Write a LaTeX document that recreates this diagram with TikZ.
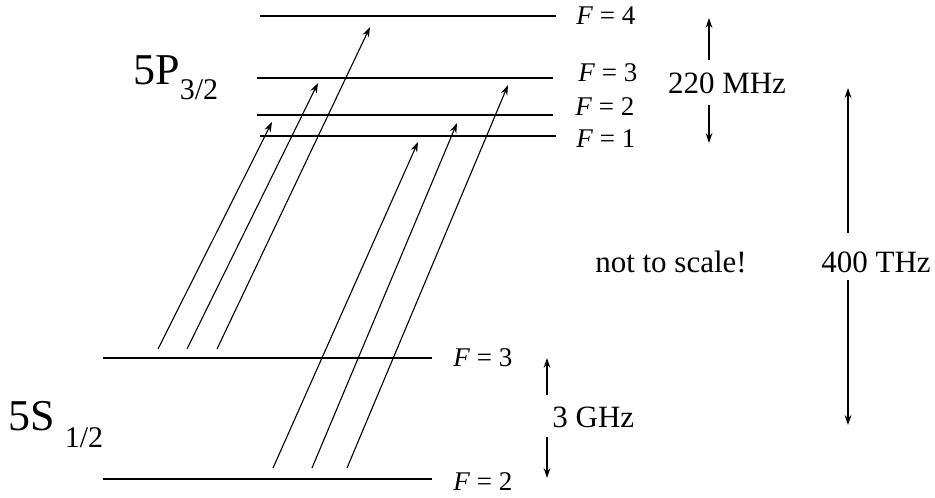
\documentclass[tikz,border=0pt]{standalone}
\usepackage{fontspec}
\setmainfont{Liberation Serif}
\usetikzlibrary{arrows.meta}

\begin{document}
\begin{tikzpicture}[x=0.5pt, y=-0.5pt,
        every node/.style={inner sep=0pt, font=\fontsize{13.5}{15}\selectfont},
        lvl/.style={line width=1.3pt},
        trans/.style={line width=0.55pt, -{Stealth[length=5pt, width=3.4pt]}},
        gap/.style={line width=0.7pt, -{Stealth[length=5pt, width=3.4pt]}},
        big/.style={font=\fontsize{22}{24}\selectfont},
        freq/.style={font=\fontsize{15.5}{17}\selectfont}]
        \useasboundingbox (0,0) rectangle (935,497);

        % 5P_{3/2}
        \coordinate (p4a) at (260,16);  \coordinate (p4b) at (556,16);
        \coordinate (p3a) at (257,78);  \coordinate (p3b) at (553,78);
        \coordinate (p2a) at (257,115); \coordinate (p2b) at (553,115);
        \coordinate (p1a) at (260,136); \coordinate (p1b) at (556,136);
        \draw[lvl] (p4a) -- (p4b);
        \draw[lvl] (p3a) -- (p3b);
        \draw[lvl] (p2a) -- (p2b);
        \draw[lvl] (p1a) -- (p1b);
        \node[anchor=west] (fp4) at (576,16) {\textit{F} = 4};
        \node[anchor=west] (fp3) at (578,73) {\textit{F} = 3};
        \node[anchor=west] (fp2) at (575,107) {\textit{F} = 2};
        \node[anchor=west] (fp1) at (576,139) {\textit{F} = 1};
        \node[big, anchor=base west] (P) at (133,85) {5P\raisebox{-7.5pt}{\fontsize{15}{16}\selectfont 3/2}};

        % 5S_{1/2}
        \coordinate (s3a) at (103,358); \coordinate (s3b) at (432,358);
        \coordinate (s2a) at (103,479); \coordinate (s2b) at (432,479);
        \draw[line width=1pt] (s3a) -- (s3b);
        \draw[line width=1pt] (s2a) -- (s2b);
        \node[anchor=west] (fs3) at (453,358) {\textit{F} = 3};
        \node[anchor=west] (fs2) at (453,482) {\textit{F} = 2};
        \node[big, anchor=base west] (S) at (8,430) {5S\hspace{5pt}\raisebox{-8.5pt}{\fontsize{15}{16}\selectfont 1/2}};

        % transitions from F=3
        \coordinate (a1) at (158,349); \coordinate (a1t) at (272,122);
        \coordinate (a2) at (187,349); \coordinate (a2t) at (318,83);
        \coordinate (a3) at (217,349); \coordinate (a3t) at (370,27);
        \draw[trans] (a1) -- (a1t);
        \draw[trans] (a2) -- (a2t);
        \draw[trans] (a3) -- (a3t);
        % transitions from F=2
        \coordinate (b1) at (273,468); \coordinate (b1t) at (418,142);
        \coordinate (b2) at (312,468); \coordinate (b2t) at (457,123);
        \coordinate (b3) at (347,468); \coordinate (b3t) at (508,85);
        \draw[trans] (b1) -- (b1t);
        \draw[trans] (b2) -- (b2t);
        \draw[trans] (b3) -- (b3t);

        % splittings
        \node[freq] (mhz) at (727,83) {220 MHz};
        \coordinate (mhz1) at (709,60);  \coordinate (mhz1t) at (709,18);
        \coordinate (mhz2) at (709,105); \coordinate (mhz2t) at (709,143);
        \draw[gap] (mhz1) -- (mhz1t);
        \draw[gap] (mhz2) -- (mhz2t);

        \node[freq] (thz) at (876,262) {400 THz};
        \coordinate (thz1) at (848,233); \coordinate (thz1t) at (848,88);
        \coordinate (thz2) at (848,280); \coordinate (thz2t) at (848,425);
        \draw[gap] (thz1) -- (thz1t);
        \draw[gap] (thz2) -- (thz2t);

        \node[freq, anchor=west] (ghz) at (552,417) {3 GHz};
        \coordinate (ghz1) at (547,395); \coordinate (ghz1t) at (547,358);
        \coordinate (ghz2) at (547,437); \coordinate (ghz2t) at (547,478);
        \draw[gap] (ghz1) -- (ghz1t);
        \draw[gap] (ghz2) -- (ghz2t);

        \node[freq] (note) at (671,262) {not to scale!};
\end{tikzpicture}
\end{document}
